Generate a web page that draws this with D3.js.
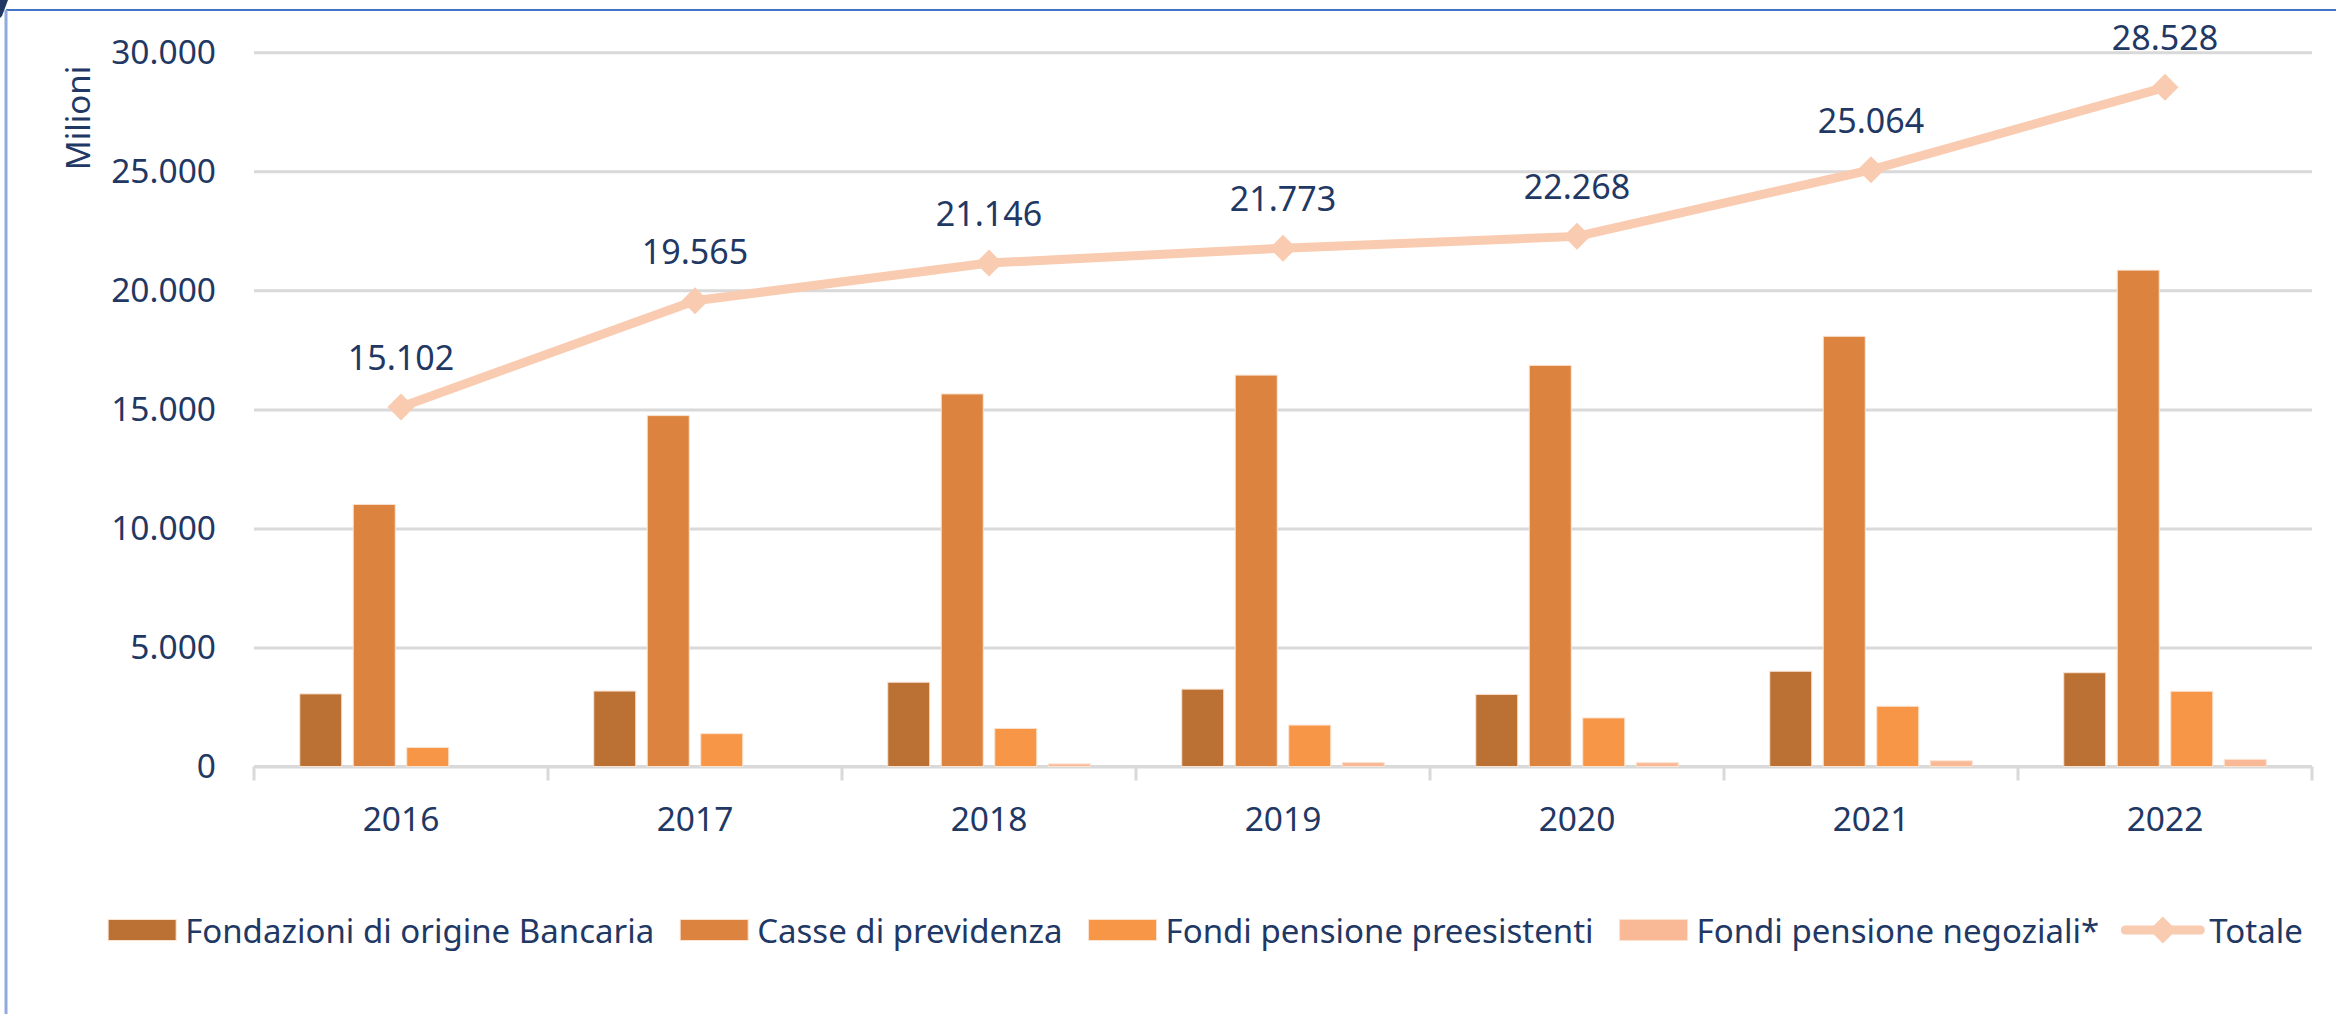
<!DOCTYPE html>
<html>
<head>
<meta charset="utf-8">
<script src="https://cdn.jsdelivr.net/npm/d3@7"></script>
<style>
  html, body { margin: 0; padding: 0; background: #ffffff; }
  svg { display: block; }
  text { font-family: "Noto Sans", "Open Sans", sans-serif; fill: #1f3864; }
</style>
</head>
<body>
<svg id="chart" width="2336" height="1014"></svg>
<script>
// ---------- DATA ----------
const categories = ["2016", "2017", "2018", "2019", "2020", "2021", "2022"];
const seriesNames = ["Fondazioni di origine Bancaria", "Casse di previdenza", "Fondi pensione preesistenti", "Fondi pensione negoziali*"];
const fondazioni   = [3050, 3170, 3540, 3250, 3030, 4000, 3940];
const casse        = [11010, 14740, 15650, 16440, 16850, 18070, 20850];
const preesistenti = [800, 1380, 1600, 1740, 2040, 2530, 3160];
const negoziali    = [0, 0, 110, 170, 160, 240, 300];
const totale       = [15102, 19565, 21146, 21773, 22268, 25064, 28528];
const totaleName = "Totale";
const yTicks = [0, 5000, 10000, 15000, 20000, 25000, 30000];
const yAxisTitle = "Milioni";

// ---------- STYLE ----------
const barColors = ["#bb7133", "#dc843f", "#f79646", "#f9b996"];
const lineColor = "#f9cbb0";
const gridColor = "#d9d9d9";
const textColor = "#1f3864";

const W = 2336, H = 1014;
const plot = { left: 254, right: 2312, top: 52.3, bottom: 766.5 };
const svg = d3.select("#chart");

const it = d3.formatLocale({ decimal: ",", thousands: ".", grouping: [3], currency: ["€", ""] });
const fmt = it.format(",d");

// frame decoration
svg.append("rect").attr("x", 0).attr("y", 0).attr("width", W).attr("height", H).attr("fill", "#ffffff");
svg.append("line").attr("x1", 6).attr("x2", W).attr("y1", 10).attr("y2", 10)
  .attr("stroke", "#4472c4").attr("stroke-width", 2);
svg.append("line").attr("x1", 6).attr("x2", 6).attr("y1", 10).attr("y2", H)
  .attr("stroke", "#8faadc").attr("stroke-width", 3);
svg.append("path").attr("d", "M0,0 L8,0 L2,16 L0,18 Z").attr("fill", "#1f3864");

// scales
const x0 = d3.scaleBand().domain(categories).range([plot.left, plot.right])
  .paddingInner(0.272).paddingOuter(0.136);
const x1 = d3.scaleBand().domain(d3.range(seriesNames.length)).range([0, x0.bandwidth()])
  .paddingInner(0.215).paddingOuter(0.1075);
const y = d3.scaleLinear().domain([0, 30000]).range([plot.bottom, plot.top]);

// gridlines + y axis labels
const yAxis = d3.axisLeft(y).tickValues(yTicks).tickFormat(fmt)
  .tickSize(-(plot.right - plot.left)).tickPadding(38);
const gy = svg.append("g").attr("transform", `translate(${plot.left},0)`).call(yAxis);
gy.select(".domain").remove();
gy.selectAll(".tick line").attr("stroke", gridColor).attr("stroke-width", 3);
gy.selectAll(".tick text").attr("font-size", 33.5).attr("fill", textColor)
  .attr("font-family", "Noto Sans");

// y axis title
svg.append("text")
  .attr("transform", `translate(77,118) rotate(-90)`)
  .attr("text-anchor", "middle").attr("dominant-baseline", "central")
  .attr("font-size", 33).text(yAxisTitle);

// x axis (baseline + tick marks)
const xAxis = d3.axisBottom(x0).tickSize(0).tickPadding(0).tickFormat("");
const gx = svg.append("g").attr("transform", `translate(0,${plot.bottom})`).call(xAxis);
gx.select(".domain").remove();
gx.append("line").attr("x1", plot.left).attr("x2", plot.right).attr("y1", 0).attr("y2", 0)
  .attr("stroke", gridColor).attr("stroke-width", 3);
const boundaries = categories.map(c => x0(c) - x0.step() * x0.paddingInner() / 2)
  .concat([plot.right]);
gx.selectAll("line.sep").data(boundaries).enter().append("line").attr("class", "sep")
  .attr("x1", d => d).attr("x2", d => d).attr("y1", 0).attr("y2", 14)
  .attr("stroke", gridColor).attr("stroke-width", 3);
gx.selectAll("text.cat").data(categories).enter().append("text").attr("class", "cat")
  .attr("x", d => x0(d) + x0.bandwidth() / 2).attr("y", 64)
  .attr("text-anchor", "middle").attr("font-size", 33.5).text(d => d);

// bars
const seriesValues = [fondazioni, casse, preesistenti, negoziali];
const barData = [];
categories.forEach((c, i) => {
  seriesValues.forEach((arr, s) => barData.push({ c, s, v: arr[i] }));
});
svg.append("g").selectAll("rect").data(barData.filter(d => d.v > 0)).enter().append("rect")
  .attr("x", d => x0(d.c) + x1(d.s))
  .attr("width", x1.bandwidth())
  .attr("y", d => y(d.v))
  .attr("height", d => y(0) - y(d.v))
  .attr("fill", d => barColors[d.s])
  .attr("stroke", "#fbe3d2").attr("stroke-width", 1);

// line
const cx = c => x0(c) + x0.bandwidth() / 2;
const lineGen = d3.line().x((d, i) => cx(categories[i])).y(d => y(d));
svg.append("path").datum(totale).attr("d", lineGen)
  .attr("fill", "none").attr("stroke", lineColor).attr("stroke-width", 9)
  .attr("stroke-linejoin", "round");
const diamond = r => `M0,${-r} L${r},0 L0,${r} L${-r},0 Z`;
svg.append("g").selectAll("path").data(totale).enter().append("path")
  .attr("transform", (d, i) => `translate(${cx(categories[i])},${y(d)})`)
  .attr("d", diamond(13.5)).attr("fill", lineColor);
svg.append("g").selectAll("text").data(totale).enter().append("text")
  .attr("x", (d, i) => cx(categories[i])).attr("y", d => y(d) - 37)
  .attr("text-anchor", "middle").attr("font-size", 34).text(d => fmt(d));

// legend
const legendItems = seriesNames.map((n, i) => ({ name: n, type: "rect", color: barColors[i] }))
  .concat([{ name: totaleName, type: "line", color: lineColor }]);
const lg = svg.append("g");
const swW = 68, swH = 21, lineW = 75, gapST = 9, gapItem = 26, legY = 930;
let cursor = 0;
legendItems.forEach(item => {
  const g = lg.append("g").attr("transform", `translate(${cursor},0)`);
  const sw = item.type === "rect" ? swW : lineW;
  if (item.type === "rect") {
    g.append("rect").attr("x", 0).attr("y", legY - swH / 2).attr("width", swW).attr("height", swH)
      .attr("fill", item.color).attr("stroke", "#fbe3d2").attr("stroke-width", 1);
  } else {
    g.append("line").attr("x1", 0).attr("x2", lineW).attr("y1", legY).attr("y2", legY)
      .attr("stroke", item.color).attr("stroke-width", 9).attr("stroke-linecap", "round");
    g.append("path").attr("transform", `translate(${lineW / 2},${legY})`)
      .attr("d", diamond(13.5)).attr("fill", item.color);
  }
  const t = g.append("text").attr("x", sw + gapST).attr("y", legY)
    .attr("dominant-baseline", "central").attr("font-size", 33).text(item.name);
  const tw = t.node().getComputedTextLength();
  cursor += sw + gapST + tw + gapItem;
});
const totalW = cursor - gapItem;
const legCenter = (108 + 2303) / 2;
lg.attr("transform", `translate(${legCenter - totalW / 2},0)`);
</script>
</body>
</html>
